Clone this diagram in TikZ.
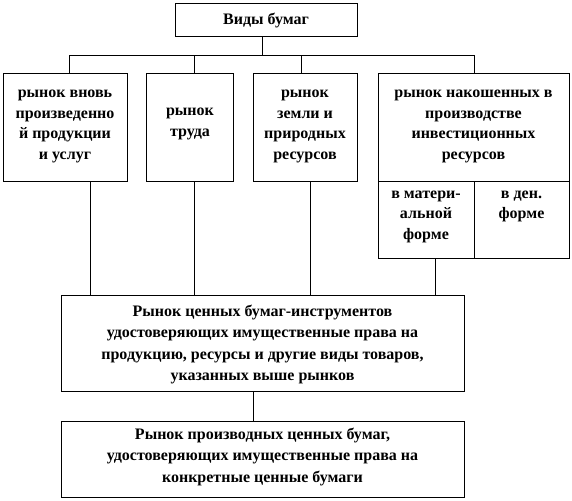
\documentclass[tikz,border=0pt]{standalone}
\usepackage{fontspec}
\setmainfont{Liberation Serif}
\begin{document}
\begin{tikzpicture}[x=1pt,y=-1pt,
  box/.style={draw, line width=0.9pt, rectangle, inner sep=0pt, anchor=north west},
  lbl/.style={align=center, font=\bfseries\fontsize{16}{20.7}\selectfont, anchor=base, inner sep=0pt},
  lblb/.style={lbl, font=\bfseries\fontsize{16}{21.5}\selectfont},
  conn/.style={draw, line width=0.9pt}]
\useasboundingbox (0,0) rectangle (572,500);
% boxes
\node[box, minimum width=182pt, minimum height=33pt] (top) at (175,3) {};
\node[box, minimum width=124pt, minimum height=107pt] (b1) at (3,73.5) {};
\node[box, minimum width=87pt, minimum height=107pt] (b2) at (146,73.5) {};
\node[box, minimum width=104pt, minimum height=107pt] (b3) at (253,73.5) {};
\node[box, minimum width=191pt, minimum height=107pt] (b4) at (378,73.5) {};
\node[box, minimum width=96pt, minimum height=77.5pt] (s1) at (378,180.5) {};
\node[box, minimum width=95pt, minimum height=77.5pt] (s2) at (474,180.5) {};
\node[box, minimum width=403pt, minimum height=96pt] (mid) at (61,295) {};
\node[box, minimum width=403pt, minimum height=76pt] (bot) at (61,421) {};
% labels (anchor base = baseline of last line)
\node[lbl] (ttop) at (266,24.5) {Виды бумаг};
\node[lbl] (t1) at (65,159.5) {рынок вновь\\произведенно\\й продукции\\и услуг};
\node[lbl] (t2) at (190,136.5) {рынок\\труда};
\node[lbl] (t3) at (305,159.5) {рынок\\земли и\\природных\\ресурсов};
\node[lbl] (t4) at (473.5,159.5) {рынок накошенных в\\производстве\\инвестиционных\\ресурсов};
\node[lbl] (ts1) at (426,239.4) {в матери-\\альной\\форме};
\node[lbl] (ts2) at (521.5,218.7) {в ден.\\форме};
\node[lblb] (tmid) at (262.5,380.5) {Рынок ценных бумаг-инструментов\\удостоверяющих имущественные права на\\продукцию, ресурсы и другие виды товаров,\\указанных выше рынков};
\node[lblb] (tbot) at (262.5,482) {Рынок производных ценных бумаг,\\удостоверяющих имущественные права на\\конкретные ценные бумаги};
% bus coordinates
\coordinate (j0) at (262,55.5);
\coordinate (j1) at (69,55.5);
\coordinate (j2) at (194,55.5);
\coordinate (j3) at (301,55.5);
\coordinate (j4) at (474,55.5);
\draw[conn] (top.south -| j0) -- (j0);
\draw[conn] (j1) -- (j4);
\draw[conn] (j1) -- (j1 |- b1.north);
\draw[conn] (j2) -- (j2 |- b2.north);
\draw[conn] (j3) -- (j3 |- b3.north);
\draw[conn] (j4) -- (j4 |- b4.north);
% lower connectors
\coordinate (k1) at (90,0);
\coordinate (k2) at (194,0);
\coordinate (k3) at (310,0);
\coordinate (k4) at (435,0);
\draw[conn] (k1 |- b1.south) -- (k1 |- mid.north);
\draw[conn] (k2 |- b2.south) -- (k2 |- mid.north);
\draw[conn] (k3 |- b3.south) -- (k3 |- mid.north);
\draw[conn] (k4 |- s1.south) -- (k4 |- mid.north);
\coordinate (k5) at (253,0);
\draw[conn] (k5 |- mid.south) -- (k5 |- bot.north);
\end{tikzpicture}
\end{document}
